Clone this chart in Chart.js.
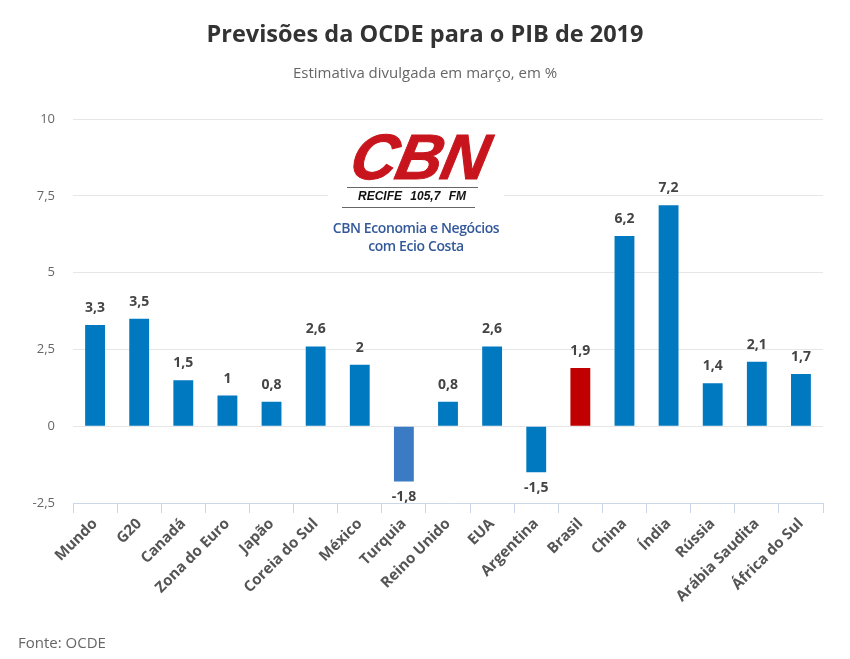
<!DOCTYPE html>
<html>
<head>
<meta charset="utf-8">
<script src="https://cdn.jsdelivr.net/npm/chart.js@4/dist/chart.umd.min.js"></script>
<style>
  html, body { margin: 0; padding: 0; background: #fff; }
  #wrap { position: relative; width: 850px; height: 659px; }
  #logo {
    position: absolute; left: 328px; top: 126px; width: 176px; height: 134px;
    background: #fff; text-align: center;
  }
  #cbn {
    position: absolute; left: 17px; top: -6px; width: 150px;
    font: bold italic 64px "Liberation Sans", Arial, sans-serif;
    color: #c8151d; letter-spacing: -1px; transform: skewX(-12deg);
    -webkit-text-stroke: 1px #c8151d;
  }
  .rule { position: absolute; height: 1px; background: #666; }
  #freq {
    position: absolute; left: 14px; top: 63px; width: 140px;
    font: bold italic 12px "Liberation Sans", Arial, sans-serif; color: #111;
    word-spacing: 5px;
  }
  #prog {
    position: absolute; left: -8px; top: 93px; width: 192px;
    font: 600 14px "Open Sans", sans-serif; color: #34599a; line-height: 18px;
    letter-spacing: -0.4px;
  }
  #fonte {
    position: absolute; left: 18px; top: 632px;
    font: 15px "Open Sans", sans-serif; color: #666;
  }
</style>
</head>
<body>
<div id="wrap">
  <canvas id="myChart" width="850" height="659"></canvas>
  <div id="logo">
    <div id="cbn">CBN</div>
    <div class="rule" style="left:19px; top:61px; width:131px;"></div>
    <div id="freq">RECIFE 105,7 FM</div>
    <div class="rule" style="left:14px; top:81px; width:133px;"></div>
    <div id="prog">CBN Economia e Negócios<br>com Ecio Costa</div>
  </div>
  <div id="fonte">Fonte: OCDE</div>
</div>
<script>
// dados
var paises = ['Mundo', 'G20', 'Canadá', 'Zona do Euro', 'Japão', 'Coreia do Sul', 'México', 'Turquia',
              'Reino Unido', 'EUA', 'Argentina', 'Brasil', 'China', 'Índia', 'Rússia', 'Arábia Saudita', 'África do Sul'];
var pib2019 = [3.3, 3.5, 1.5, 1, 0.8, 2.6, 2, -1.8, 0.8, 2.6, -1.5, 1.9, 6.2, 7.2, 1.4, 2.1, 1.7];
var yTicks = [-2.5, 0, 2.5, 5, 7.5, 10];

var corBarra = '#0079c1';
var cores = paises.map(function (p) {
    if (p === 'Brasil') return '#c00000';
    if (p === 'Turquia') return '#3a7bc3';
    return corBarra;
});

var virgula = function (v) { return String(v).replace('.', ','); };

// rotulos em cima das barras
var rotulosPlugin = {
    id: 'rotulos',
    afterDatasetsDraw: function (chart) {
        var ctx = chart.ctx;
        var meta = chart.getDatasetMeta(0);
        ctx.save();
        ctx.font = 'bold 14px "Open Sans", sans-serif';
        ctx.fillStyle = '#444';
        ctx.textAlign = 'center';
        ctx.textBaseline = 'middle';
        meta.data.forEach(function (bar, i) {
            var v = pib2019[i];
            var y = v >= 0 ? bar.y - 17 : bar.y + 16;
            ctx.fillText(virgula(v), bar.x, y);
        });
        ctx.restore();
    }
};

const ctx = document.getElementById('myChart');
new Chart(ctx, {
    type: 'bar',
    data: {
        labels: paises,
        datasets: [{
            data: pib2019,
            backgroundColor: cores,
            barPercentage: 0.45,
            categoryPercentage: 1
        }]
    },
    options: {
        responsive: false,
        animation: false,
        layout: { padding: 0 },
        plugins: {
            legend: { display: false },
            tooltip: { enabled: false },
            title: {
                display: true,
                text: 'Previsões da OCDE para o PIB de 2019',
                color: '#333',
                font: { family: '"Open Sans", sans-serif', size: 23.5, weight: 'bold' },
                padding: { top: 21, bottom: 8 }
            },
            subtitle: {
                display: true,
                text: 'Estimativa divulgada em março, em %',
                color: '#666',
                font: { family: '"Open Sans", sans-serif', size: 15 },
                padding: { top: 8, bottom: 36 }
            }
        },
        scales: {
            x: {
                grid: { display: true, drawOnChartArea: false, drawTicks: true, tickLength: 10, color: '#ccd6eb', offset: true },
                border: { display: true, color: '#ccd6eb' },
                ticks: {
                    color: '#555',
                    font: { family: '"Open Sans", sans-serif', size: 15, weight: 'bold' },
                    minRotation: 45, maxRotation: 45, autoSkip: false, padding: 2
                },
                afterFit: function (s) { s.height = 156; }
            },
            y: {
                min: -2.5, max: 10,
                afterBuildTicks: function (s) { s.ticks = yTicks.map(function (v) { return { value: v }; }); },
                grid: { color: '#e6e6e6', drawTicks: false },
                border: { display: false },
                ticks: {
                    color: '#666',
                    font: { family: '"Open Sans", sans-serif', size: 13 },
                    padding: 18,
                    callback: function (v) { return virgula(v); }
                },
                afterFit: function (s) { s.width = 73; }
            },
            // margem direita vazia
            direita: {
                position: 'right',
                grid: { drawOnChartArea: false, drawTicks: false },
                border: { display: false },
                ticks: { display: false },
                afterFit: function (s) { s.width = 27; }
            }
        }
    },
    plugins: [rotulosPlugin]
});
</script>
</body>
</html>
